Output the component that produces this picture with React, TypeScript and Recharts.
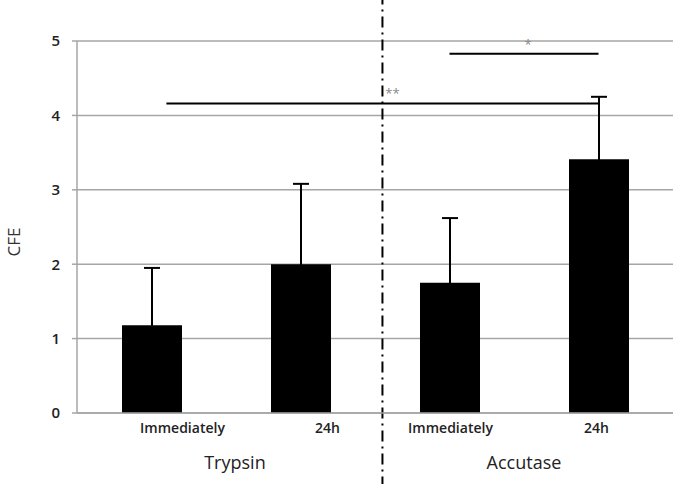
import {
  Bar,
  BarChart,
  CartesianGrid,
  ErrorBar,
  ReferenceLine,
  XAxis,
  YAxis,
} from "recharts";

const categories = ["Immediately", "24h", "Immediately", "24h"];
const cfe = [1.18, 2.0, 1.75, 3.41];
const errUp = [0.77, 1.08, 0.87, 0.84];
const groups = ["Trypsin", "Accutase"];
const groupAt = [1.06, 3.0];
const yTicks = [0, 1, 2, 3, 4, 5];

// significance brackets on the 0..4 category scale
const sigLabels = ["**", "*"];
const sigFrom = [0.6, 2.5];
const sigTo = [3.5, 3.5];
const sigY = [4.16, 4.83];
const sigDx = [10, 4];
const dividerAt = 2.05;

// the original labels sit a bit off their bars
const labelShift = [31, 27, 1, -2];

const data = categories.map((name, i) => ({
  id: i,
  pos: i + 0.5,
  name,
  cfe: cfe[i],
  // lower end tucked inside the bar so only the upper whisker shows
  err: [0.03, errUp[i]],
}));

const CatTick = (props: any) => {
  const { x, y, payload } = props;
  const i = payload.value as number;
  return (
    <text
      x={x + labelShift[i]}
      y={y}
      dy={12}
      textAnchor="middle"
      fontSize={14}
      fontWeight={600}
      fill="#222"
    >
      {categories[i]}
    </text>
  );
};

const GroupTick = (props: any) => {
  const { x, y, payload } = props;
  const g = groupAt.indexOf(payload.value);
  if (g < 0) return <g />;
  return (
    <text x={x} y={y} dy={18} textAnchor="middle" fontSize={18} fill="#222">
      {groups[g]}
    </text>
  );
};

const YTitle = (props: any) => {
  const { viewBox } = props;
  const x = viewBox.x + 13;
  const y = viewBox.y + viewBox.height / 2 + 15;
  return (
    <text
      x={x}
      y={y}
      transform={`rotate(-90 ${x} ${y})`}
      textAnchor="middle"
      dominantBaseline="central"
      fontSize={17}
      fill="#333"
    >
      CFE
    </text>
  );
};

export default function App() {
  return (
    <div
      style={{
        position: "absolute",
        left: 0,
        top: 0,
        width: 687,
        height: 484,
        background: "#fff",
        fontFamily: "'Open Sans', sans-serif",
      }}
    >
      <BarChart
        width={687}
        height={484}
        data={data}
        margin={{ top: 41, right: 14, left: 0, bottom: 0 }}
      >
        <CartesianGrid vertical={false} stroke="#a6a6a6" strokeWidth={1.5} />
        <XAxis
          dataKey="id"
          height={30}
          tickLine={false}
          axisLine={{ stroke: "#a6a6a6", strokeWidth: 1.5 }}
          tick={<CatTick />}
          interval={0}
        />
        <XAxis
          xAxisId="num"
          dataKey="pos"
          type="number"
          domain={[0, 4]}
          allowDataOverflow
          ticks={groupAt}
          height={41}
          axisLine={false}
          tickLine={false}
          tick={<GroupTick />}
          interval={0}
        />
        <YAxis
          width={77}
          domain={[0, 5]}
          ticks={yTicks}
          tickSize={5}
          tickMargin={12}
          axisLine={{ stroke: "#a6a6a6", strokeWidth: 1.5 }}
          tickLine={{ stroke: "#a6a6a6", strokeWidth: 1.5 }}
          tick={{ fill: "#222", fontSize: 15, fontWeight: 600 }}
          label={<YTitle />}
        />
        <Bar dataKey="cfe" fill="#000" barSize={60} isAnimationActive={false}>
          <ErrorBar
            dataKey="err"
            direction="y"
            width={8}
            stroke="#000"
            strokeWidth={2}
          />
        </Bar>
        <ReferenceLine
          xAxisId="num"
          segment={[
            { x: dividerAt, y: -1 },
            { x: dividerAt, y: 5.6 },
          ]}
          ifOverflow="visible"
          stroke="#000"
          strokeWidth={2}
          strokeDasharray="11 5 2 5"
        />
        {sigLabels.map((label, i) => (
          <ReferenceLine
            key={label}
            xAxisId="num"
            segment={[
              { x: sigFrom[i], y: sigY[i] },
              { x: sigTo[i], y: sigY[i] },
            ]}
            ifOverflow="visible"
            stroke="#000"
            strokeWidth={2}
            label={{
              value: label,
              position: "top",
              dx: sigDx[i],
              fill: "#888",
              fontSize: 13,
            }}
          />
        ))}
      </BarChart>
    </div>
  );
}
